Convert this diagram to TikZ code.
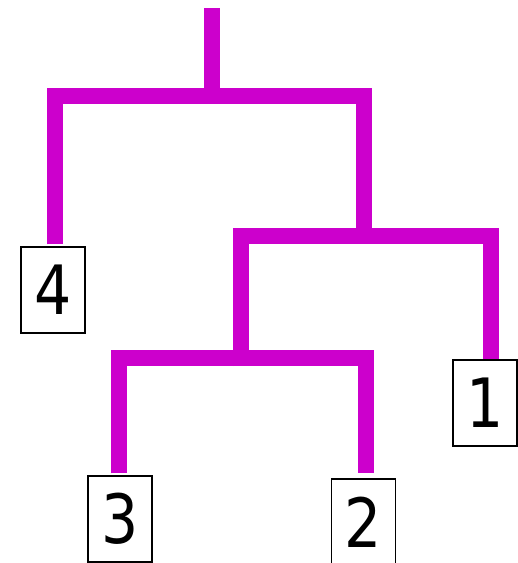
\documentclass[tikz,border=0pt]{standalone}
\usepackage{fontspec}
\setmainfont{DejaVu Sans}
\newfontfamily\leaffont[FakeStretch=0.86]{DejaVu Sans}
\definecolor{treemag}{RGB}{204,0,204}
\tikzset{
  branch/.style={draw=treemag, line width=16pt},
  leaf/.style={draw, line width=1.3pt, minimum width=64pt, minimum height=86pt,
    inner sep=0pt, font=\leaffont\fontsize{68}{68}\selectfont},
}
\begin{document}
\begin{tikzpicture}[x=1pt,y=-1pt]
    \useasboundingbox (0,0) rectangle (518,563);
    % leaves
    \node[leaf] (n4) at (53,290) {4};
    \node[leaf] (n1) at (485,403) {1};
    \node[leaf] (n3) at (120,519) {3};
    \node[leaf] (n2) at (363.5,522) {2};
    % joins
    \coordinate (top) at (212,8);
    \coordinate (c1) at (212,96);
    \coordinate (c2) at (364,236);
    \coordinate (c3) at (241,358);
    % tree
    \draw[branch] (top) -- ([yshift=-8pt]c1);
    \draw[branch] ([xshift=2pt,yshift=2pt]n4.north) |- (c1) -| ([yshift=-8pt]c2);
    \draw[branch] ([yshift=-8pt]c3) |- (c2) -| ([xshift=6pt]n1.north);
    \draw[branch] ([xshift=-1pt,yshift=2pt]n3.north) |- (c3) -| ([xshift=2.5pt,yshift=5pt]n2.north);
  \end{tikzpicture}
\end{document}
